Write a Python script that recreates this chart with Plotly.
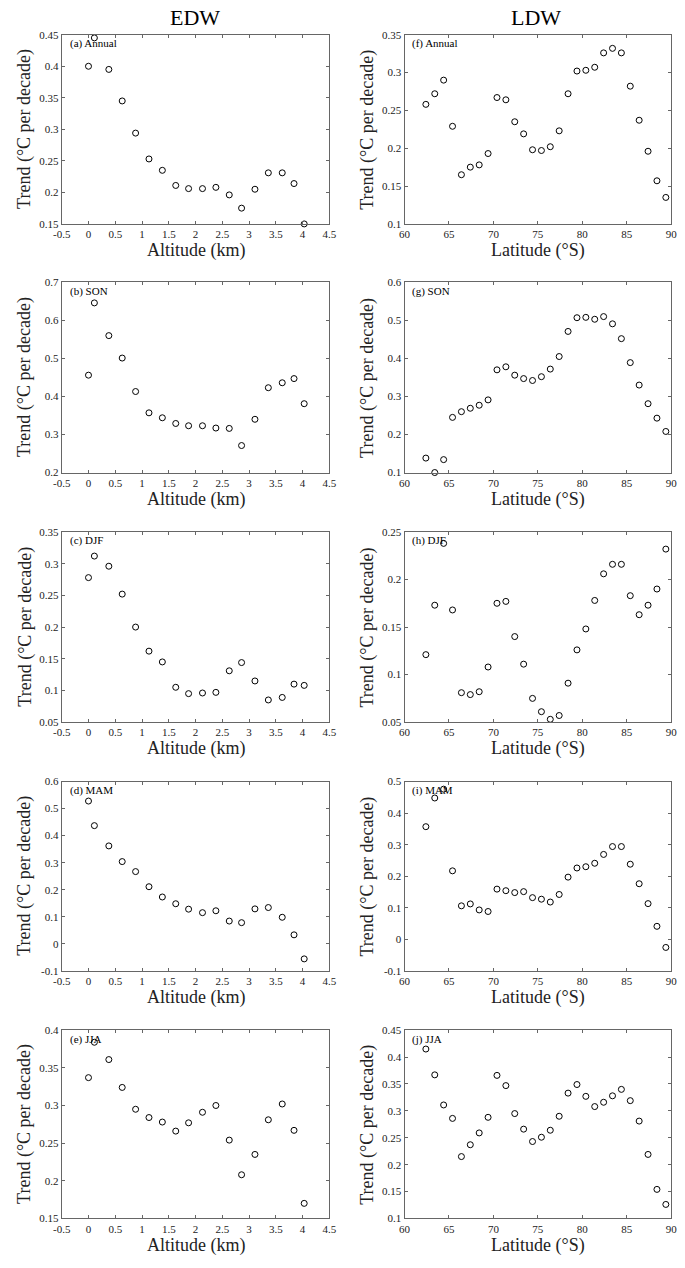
import plotly.graph_objects as go

# ---------------- data ----------------
altitude_km = [0.0, 0.11, 0.38, 0.63, 0.88, 1.13, 1.38, 1.63, 1.87, 2.13,
               2.38, 2.63, 2.86, 3.11, 3.36, 3.62, 3.84, 4.03]
latitude_s = [62.4, 63.4, 64.4, 65.4, 66.4, 67.4, 68.4, 69.4, 70.4, 71.4,
              72.4, 73.4, 74.4, 75.4, 76.4, 77.4, 78.4, 79.4, 80.4, 81.4,
              82.4, 83.4, 84.4, 85.4, 86.4, 87.4, 88.4, 89.4]

edw_annual = [0.400, 0.445, 0.395, 0.345, 0.294, 0.253, 0.235, 0.211, 0.206, 0.206,
              0.208, 0.196, 0.175, 0.205, 0.231, 0.231, 0.214, 0.150]
edw_son = [0.456, 0.646, 0.560, 0.501, 0.413, 0.357, 0.344, 0.329, 0.323, 0.323,
           0.317, 0.316, 0.271, 0.340, 0.423, 0.436, 0.447, 0.381]
edw_djf = [0.278, 0.312, 0.296, 0.252, 0.200, 0.162, 0.145, 0.105, 0.095, 0.096,
           0.097, 0.131, 0.144, 0.115, 0.085, 0.089, 0.110, 0.108]
edw_mam = [0.528, 0.437, 0.362, 0.304, 0.267, 0.211, 0.173, 0.148, 0.128, 0.115,
           0.122, 0.084, 0.078, 0.129, 0.134, 0.098, 0.033, -0.056]
edw_jja = [0.337, 0.384, 0.361, 0.324, 0.295, 0.284, 0.278, 0.266, 0.277, 0.291,
           0.300, 0.254, 0.208, 0.235, 0.281, 0.302, 0.267, 0.170]

ldw_annual = [0.258, 0.272, 0.290, 0.229, 0.165, 0.175, 0.178, 0.193, 0.267, 0.264,
              0.235, 0.219, 0.198, 0.197, 0.202, 0.223, 0.272, 0.302, 0.303, 0.307,
              0.326, 0.332, 0.326, 0.282, 0.237, 0.196, 0.157, 0.135]
ldw_son = [0.138, 0.100, 0.134, 0.245, 0.260, 0.269, 0.277, 0.291, 0.370, 0.378,
           0.356, 0.347, 0.342, 0.352, 0.372, 0.405, 0.471, 0.507, 0.508, 0.503,
           0.510, 0.491, 0.452, 0.389, 0.330, 0.281, 0.243, 0.208]
ldw_djf = [0.121, 0.173, 0.238, 0.168, 0.081, 0.079, 0.082, 0.108, 0.175, 0.177,
           0.140, 0.111, 0.075, 0.061, 0.053, 0.057, 0.091, 0.126, 0.148, 0.178,
           0.206, 0.216, 0.216, 0.183, 0.163, 0.173, 0.190, 0.232]
ldw_mam = [0.357, 0.448, 0.476, 0.217, 0.106, 0.112, 0.093, 0.088, 0.159, 0.154,
           0.148, 0.151, 0.132, 0.127, 0.118, 0.142, 0.197, 0.226, 0.230, 0.241,
           0.269, 0.294, 0.294, 0.238, 0.176, 0.113, 0.041, -0.026]
ldw_jja = [0.415, 0.367, 0.311, 0.286, 0.215, 0.237, 0.259, 0.288, 0.366, 0.347,
           0.295, 0.266, 0.243, 0.251, 0.264, 0.290, 0.333, 0.349, 0.327, 0.308,
           0.316, 0.328, 0.340, 0.319, 0.281, 0.219, 0.154, 0.126]

panel_labels_left = ["(a) Annual", "(b) SON", "(c) DJF", "(d) MAM", "(e) JJA"]
panel_labels_right = ["(f) Annual", "(g) SON", "(h) DJF", "(i) MAM", "(j) JJA"]

alt_ticks = [-0.5, 0, 0.5, 1, 1.5, 2, 2.5, 3, 3.5, 4, 4.5]
alt_ticktext = ["-0.5", "0", "0.5", "1", "1.5", "2", "2.5", "3", "3.5", "4", "4.5"]
lat_ticks = [60, 65, 70, 75, 80, 85, 90]
lat_ticktext = ["60", "65", "70", "75", "80", "85", "90"]

left_y_ticks = [
    [0.15, 0.2, 0.25, 0.3, 0.35, 0.4, 0.45],
    [0.2, 0.3, 0.4, 0.5, 0.6, 0.7],
    [0.05, 0.1, 0.15, 0.2, 0.25, 0.3, 0.35],
    [-0.1, 0, 0.1, 0.2, 0.3, 0.4, 0.5, 0.6],
    [0.15, 0.2, 0.25, 0.3, 0.35, 0.4],
]
left_y_text = [
    ["0.15", "0.2", "0.25", "0.3", "0.35", "0.4", "0.45"],
    ["0.2", "0.3", "0.4", "0.5", "0.6", "0.7"],
    ["0.05", "0.1", "0.15", "0.2", "0.25", "0.3", "0.35"],
    ["-0.1", "0", "0.1", "0.2", "0.3", "0.4", "0.5", "0.6"],
    ["0.15", "0.2", "0.25", "0.3", "0.35", "0.4"],
]
right_y_ticks = [
    [0.1, 0.15, 0.2, 0.25, 0.3, 0.35],
    [0.1, 0.2, 0.3, 0.4, 0.5, 0.6],
    [0.05, 0.1, 0.15, 0.2, 0.25],
    [-0.1, 0, 0.1, 0.2, 0.3, 0.4, 0.5],
    [0.1, 0.15, 0.2, 0.25, 0.3, 0.35, 0.4, 0.45],
]
right_y_text = [
    ["0.1", "0.15", "0.2", "0.25", "0.3", "0.35"],
    ["0.1", "0.2", "0.3", "0.4", "0.5", "0.6"],
    ["0.05", "0.1", "0.15", "0.2", "0.25"],
    ["-0.1", "0", "0.1", "0.2", "0.3", "0.4", "0.5"],
    ["0.1", "0.15", "0.2", "0.25", "0.3", "0.35", "0.4", "0.45"],
]

left_series = [edw_annual, edw_son, edw_djf, edw_mam, edw_jja]
right_series = [ldw_annual, ldw_son, ldw_djf, ldw_mam, ldw_jja]

# ---------------- layout ----------------
W, H = 685, 1268
FONT = "Liberation Serif, Times New Roman, serif"
LINE = "#666666"
left_px = (54, 328)
right_px = (405, 678)
rows_px = [(29, 220), (279, 471), (531, 723), (783, 974), (1034, 1224)]

def fx(p):
    return p / W

def fy(p):
    return 1 - p / H

fig = go.Figure()
layout = dict(
    width=W, height=H,
    margin=dict(l=0, r=0, t=0, b=0),
    paper_bgcolor="white", plot_bgcolor="white",
    showlegend=False,
    font=dict(family=FONT, color="black"),
)
annotations = []

def axis_common():
    return dict(showline=True, linecolor=LINE, linewidth=1, mirror="ticks",
                ticks="inside", ticklen=3, tickcolor=LINE, tickwidth=1,
                showgrid=False, zeroline=False,
                tickfont=dict(family=FONT, size=11, color="#222"))

idx = 0
for r in range(5):
    for c in range(2):
        idx += 1
        xa = "xaxis" if idx == 1 else f"xaxis{idx}"
        ya = "yaxis" if idx == 1 else f"yaxis{idx}"
        xr = "x" if idx == 1 else f"x{idx}"
        yr = "y" if idx == 1 else f"y{idx}"
        if c == 0:
            xs, ys = altitude_km, left_series[r]
            xt, xtt, xrange = alt_ticks, alt_ticktext, [-0.5, 4.5]
            yt, ytt = left_y_ticks[r], left_y_text[r]
            px = left_px
            xtitle = "Altitude (km)"
            plabel = panel_labels_left[r]
        else:
            xs, ys = latitude_s, right_series[r]
            xt, xtt, xrange = lat_ticks, lat_ticktext, [60, 90]
            yt, ytt = right_y_ticks[r], right_y_text[r]
            px = right_px
            xtitle = "Latitude (°S)"
            plabel = panel_labels_right[r]
        top, bot = rows_px[r]
        layout[xa] = dict(domain=[fx(px[0]), fx(px[1])], anchor=yr, range=xrange,
                          tickmode="array", tickvals=xt, ticktext=xtt,
                          **axis_common())
        layout[ya] = dict(domain=[fy(bot), fy(top)], anchor=xr, range=[yt[0], yt[-1]],
                          tickmode="array", tickvals=yt, ticktext=ytt,
                          **axis_common())
        fig.add_trace(go.Scatter(
            x=xs, y=ys, mode="markers", xaxis=xr, yaxis=yr, cliponaxis=False,
            marker=dict(symbol="circle-open", size=6, color="black",
                        line=dict(width=1, color="black")),
        ))
        # panel label
        annotations.append(dict(
            x=fx(px[0] + 6), y=fy(top + 9), xref="paper", yref="paper",
            xanchor="left", yanchor="middle", showarrow=False, text=plabel,
            font=dict(family=FONT, size=11, color="black")))
        # x axis title
        annotations.append(dict(
            x=fx((px[0] + px[1]) / 2), y=fy(bot + 27), xref="paper", yref="paper",
            xanchor="center", yanchor="middle", showarrow=False, text=xtitle,
            font=dict(family=FONT, size=18, color="#222")))
        # y axis title
        annotations.append(dict(
            x=fx(px[0] - 38), y=fy((top + bot) / 2), xref="paper", yref="paper",
            xanchor="center", yanchor="middle", showarrow=False, textangle=-90,
            text="Trend (°C per decade)",
            font=dict(family=FONT, size=18, color="#222")))

annotations.append(dict(x=fx(190), y=fy(12), xref="paper", yref="paper",
                        showarrow=False, text="EDW", xanchor="center", yanchor="middle",
                        font=dict(family=FONT, size=22, color="black")))
annotations.append(dict(x=fx(540), y=fy(12), xref="paper", yref="paper",
                        showarrow=False, text="LDW", xanchor="center", yanchor="middle",
                        font=dict(family=FONT, size=22, color="black")))
layout["annotations"] = annotations
fig.update_layout(**layout)
# remove the browser's default 8px body margin so the figure fills the window
fig.write_html("out.html",
               config={"displayModeBar": False, "staticPlot": True},
               post_script="document.body.style.margin='0';document.body.style.overflow='hidden';")
